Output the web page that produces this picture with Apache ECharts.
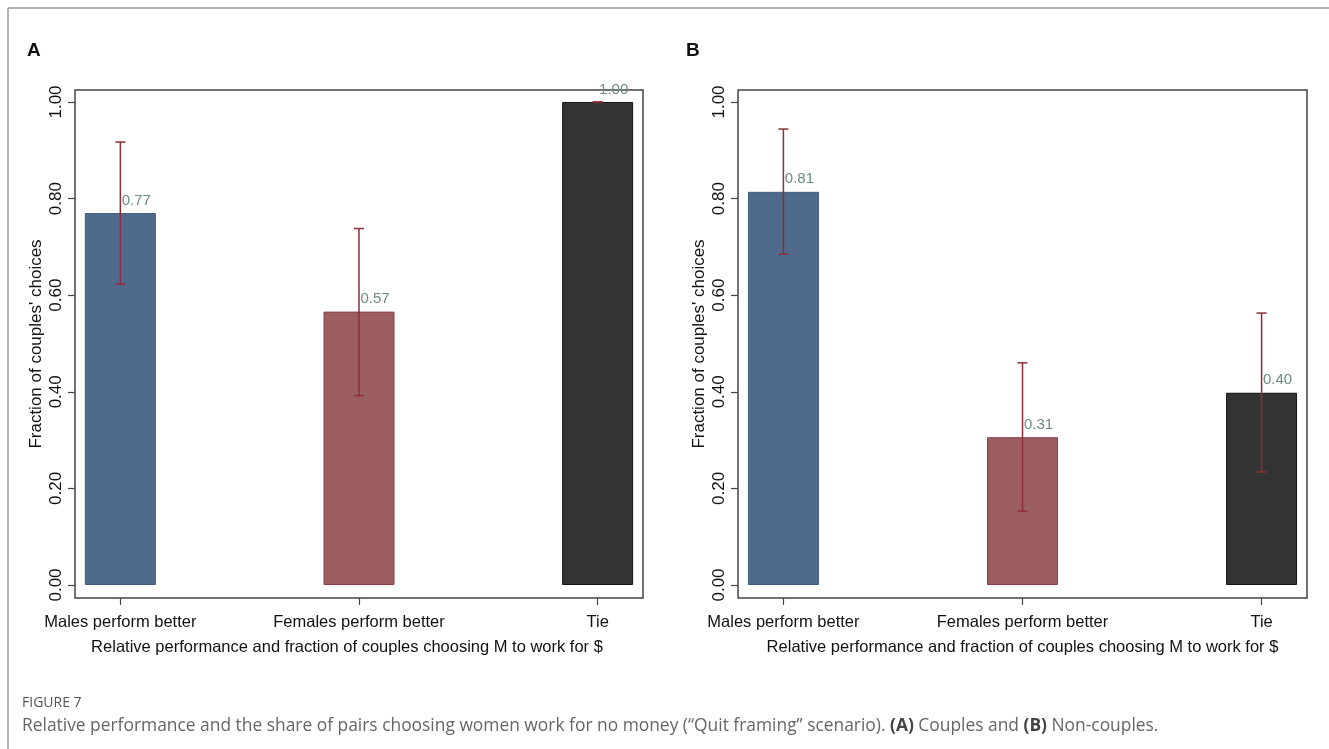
<!DOCTYPE html>
<html>
<head>
<meta charset="utf-8">
<script src="https://cdn.jsdelivr.net/npm/echarts@6/dist/echarts.min.js"></script>
<style>
  html, body { margin: 0; padding: 0; background: #fff; }
  #main { width: 1329px; height: 749px; }
</style>
</head>
<body>
<div id="main"></div>
<script>
// categories and tick values
var categories = ['Males perform better', 'Females perform better', 'Tie'];
var catPos = [0, 1, 2];
var yTicks = [0, 0.2, 0.4, 0.6, 0.8, 1.0];

// panel A: couples
var valuesA = [0.77, 0.566, 1.0];
var lowA = [0.623, 0.392, 1.0];
var highA = [0.917, 0.738, 1.0];

// panel B: non-couples
var valuesB = [0.814, 0.306, 0.398];
var lowB = [0.685, 0.153, 0.234];
var highB = [0.944, 0.460, 0.563];

var barColors = ['#4f6a8b', '#9b5f61', '#333333'];
var barBorders = ['#3e5d82', '#8e3e47', '#111111'];
var errColor = '#8c2f36';
var labelColor = '#6b8d81';
var xTitle = 'Relative performance and fraction of couples choosing M to work for $';
var yTitle = "Fraction of couples' choices";

var dom = document.getElementById('main');
var myChart = echarts.init(dom);

function barData(vals) {
    return vals.map(function (v, i) {
        return {
            value: [catPos[i], v],
            itemStyle: { color: barColors[i], borderColor: barBorders[i], borderWidth: 1 }
        };
    });
}

function errData(lo, hi) {
    return lo.map(function (l, i) { return [catPos[i], l, hi[i]]; });
}

function renderErr(params, api) {
    var x = api.value(0);
    var pLo = api.coord([x, api.value(1)]);
    var pHi = api.coord([x, api.value(2)]);
    var w = 5;
    var st = { stroke: errColor, lineWidth: 1.5 };
    return {
        type: 'group',
        children: [
            { type: 'line', shape: { x1: pLo[0], y1: pLo[1], x2: pHi[0], y2: pHi[1] }, style: st },
            { type: 'line', shape: { x1: pHi[0] - w, y1: pHi[1], x2: pHi[0] + w, y2: pHi[1] }, style: st },
            { type: 'line', shape: { x1: pLo[0] - w, y1: pLo[1], x2: pLo[0] + w, y2: pLo[1] }, style: st }
        ]
    };
}

function xAxisFor(idx, namePad) {
    return {
        type: 'value',
        gridIndex: idx,
        min: -0.19,
        max: 2.19,
        splitLine: { show: false },
        axisLine: { show: false, onZero: false },
        axisTick: { show: true, length: 7, customValues: catPos, lineStyle: { color: '#444', width: 1.2 } },
        axisLabel: {
            customValues: catPos,
            margin: 16,
            fontSize: 16.5,
            color: '#111',
            fontFamily: 'Liberation Sans',
            formatter: function (v) { return categories[Math.round(v)]; }
        },
        name: xTitle,
        nameLocation: 'middle',
        nameGap: 41,
        nameTextStyle: {
            fontSize: 16.5,
            color: '#111',
            fontFamily: 'Liberation Sans',
            padding: namePad
        }
    };
}

function yAxisFor(idx) {
    return {
        type: 'value',
        gridIndex: idx,
        min: -0.0269,
        max: 1.0248,
        splitLine: { show: false },
        axisLine: { show: false, onZero: false },
        axisTick: { show: true, length: 7, customValues: yTicks, lineStyle: { color: '#444', width: 1.2 } },
        axisLabel: {
            customValues: yTicks,
            rotate: 90,
            margin: 10,
            fontSize: 17,
            color: '#111',
            fontFamily: 'Liberation Sans',
            formatter: function (v) { return v.toFixed(2); }
        },
        name: yTitle,
        nameLocation: 'middle',
        nameRotate: 90,
        nameGap: 30,
        nameTextStyle: { fontSize: 17, color: '#111', fontFamily: 'Liberation Sans' }
    };
}

function barSeries(idx, vals) {
    return {
        type: 'bar',
        xAxisIndex: idx,
        yAxisIndex: idx,
        barWidth: 71,
        data: barData(vals),
        label: {
            show: true,
            position: 'top',
            distance: 5,
            offset: [16, 0],
            color: labelColor,
            fontSize: 15,
            fontFamily: 'Liberation Sans',
            formatter: function (p) { return p.value[1].toFixed(2); }
        },
        z: 2
    };
}

function errSeries(idx, lo, hi) {
    return {
        type: 'custom',
        xAxisIndex: idx,
        yAxisIndex: idx,
        renderItem: renderErr,
        encode: { x: 0, y: [1, 2] },
        data: errData(lo, hi),
        z: 3
    };
}

option = {
    animation: false,
    grid: [
        { left: 75, top: 90, width: 568, height: 508, show: true, borderColor: '#444', borderWidth: 1.5, backgroundColor: '#fff' },
        { left: 738, top: 90, width: 569, height: 508, show: true, borderColor: '#444', borderWidth: 1.5, backgroundColor: '#fff' }
    ],
    xAxis: [xAxisFor(0, [0, 24, 0, 0]), xAxisFor(1, [0, 0, 0, 0])],
    yAxis: [yAxisFor(0), yAxisFor(1)],
    series: [
        barSeries(0, valuesA),
        errSeries(0, lowA, highA),
        barSeries(1, valuesB),
        errSeries(1, lowB, highB)
    ],
    graphic: [
        { type: 'line', shape: { x1: 8, y1: 8, x2: 1329, y2: 8 }, style: { stroke: '#999', lineWidth: 1.5 } },
        { type: 'line', shape: { x1: 8, y1: 8, x2: 8, y2: 749 }, style: { stroke: '#999', lineWidth: 1.5 } },
        { type: 'text', left: 27, top: 41, style: { text: 'A', font: 'bold 19px Liberation Sans', fill: '#111' } },
        { type: 'text', left: 686, top: 41, style: { text: 'B', font: 'bold 19px Liberation Sans', fill: '#111' } },
        { type: 'text', left: 22, top: 696, style: { text: 'FIGURE 7', font: '14px Open Sans', fill: '#555' } },
        {
            type: 'text', left: 22, top: 718,
            style: {
                text: 'Relative performance and the share of pairs choosing women work for no money (\u201cQuit framing\u201d scenario). {b|(A)} Couples and {b|(B)} Non-couples.',
                font: '17.4px Open Sans',
                fill: '#666',
                rich: { b: { fontWeight: 'bold', fontSize: 17.4, fontFamily: 'Open Sans', fill: '#444' } }
            }
        }
    ]
};
myChart.setOption(option);
</script>
</body>
</html>
